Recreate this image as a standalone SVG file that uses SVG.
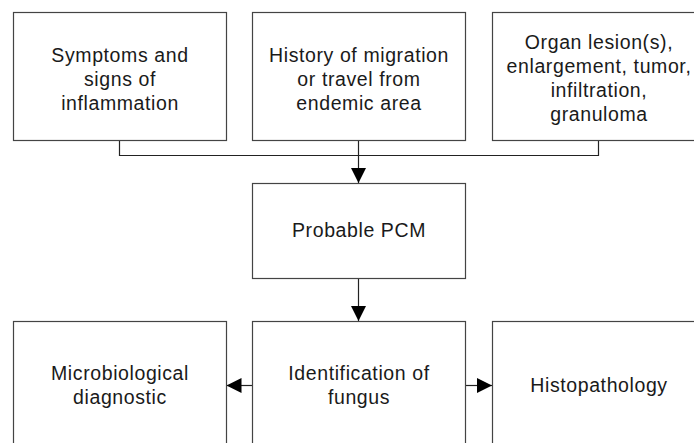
<svg xmlns="http://www.w3.org/2000/svg" width="694" height="443" viewBox="0 0 694 443">
<defs>
<style>
.box{fill:#fff;stroke:#444;stroke-width:1.2}
.t{font-family:"Liberation Sans",Arial,sans-serif;font-size:19.5px;letter-spacing:0.6px;fill:#1a1a1a;text-anchor:middle}
.c{fill:none;stroke:#222;stroke-width:1.2}
</style>
<marker id="ah" viewBox="0 0 10 10" refX="10" refY="5" markerWidth="15" markerHeight="15" markerUnits="userSpaceOnUse" orient="auto">
<path d="M0,0 L10,5 L0,10 z" fill="#000"/>
</marker>
</defs>
<rect width="694" height="443" fill="#fff"/>
<g id="connectors">
<path class="c" d="M119.5,140 V155.5 H598.5 V140"/>
<path class="c" d="M358.5,140 V183" marker-end="url(#ah)"/>
<path class="c" d="M358.5,278 V321" marker-end="url(#ah)"/>
<path class="c" d="M252,385.5 H226.5" marker-end="url(#ah)"/>
<path class="c" d="M466,385.5 H492" marker-end="url(#ah)"/>
</g>
<g id="n1">
<rect class="box" x="13.5" y="12.5" width="213" height="128"/>
<text class="t" x="120" y="62">Symptoms and</text>
<text class="t" x="120" y="86">signs of</text>
<text class="t" x="120" y="110">inflammation</text>
</g>
<g id="n2">
<rect class="box" x="252.5" y="12.5" width="213" height="128"/>
<text class="t" x="359" y="62">History of migration</text>
<text class="t" x="359" y="86">or travel from</text>
<text class="t" x="359" y="110">endemic area</text>
</g>
<g id="n3">
<rect class="box" x="492.5" y="12.5" width="213" height="128"/>
<text class="t" x="599" y="48.5">Organ lesion(s),</text>
<text class="t" x="599" y="72.5">enlargement, tumor,</text>
<text class="t" x="599" y="96.5">infiltration,</text>
<text class="t" x="599" y="120.5">granuloma</text>
</g>
<g id="n4">
<rect class="box" x="252.5" y="183.5" width="213" height="95"/>
<text class="t" x="359" y="236.5">Probable PCM</text>
</g>
<g id="n5">
<rect class="box" x="13.5" y="321.5" width="213" height="140"/>
<text class="t" x="120" y="380">Microbiological</text>
<text class="t" x="120" y="404">diagnostic</text>
</g>
<g id="n6">
<rect class="box" x="252.5" y="321.5" width="213" height="140"/>
<text class="t" x="359" y="380">Identification of</text>
<text class="t" x="359" y="404">fungus</text>
</g>
<g id="n7">
<rect class="box" x="492.5" y="321.5" width="213" height="140"/>
<text class="t" x="599" y="392">Histopathology</text>
</g>
</svg>
